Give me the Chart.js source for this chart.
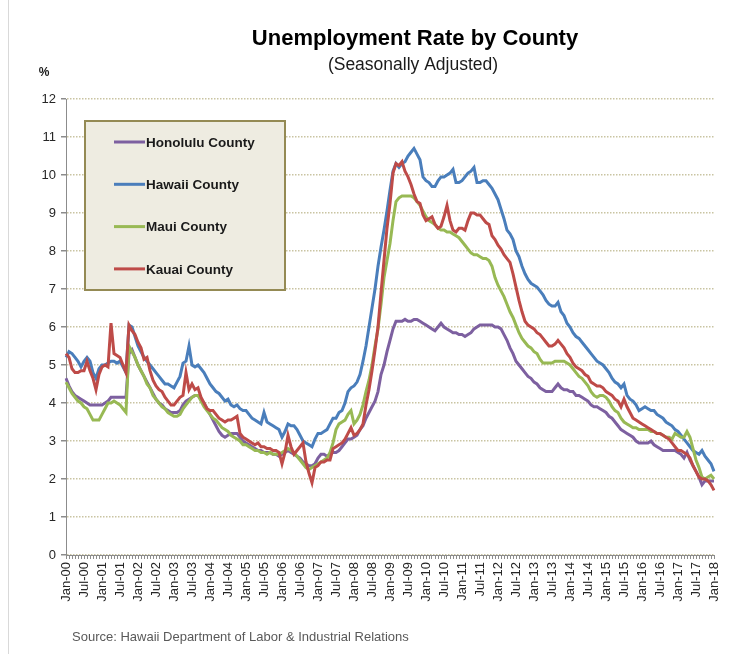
<!doctype html>
<html lang="en">
<head>
<meta charset="utf-8">
<title>Unemployment Rate by County</title>
<script src="https://cdn.jsdelivr.net/npm/chart.js@4.4.1/dist/chart.umd.min.js"></script>
<style>
  html, body { margin: 0; padding: 0; background: #fff; }
  #wrap { width: 741px; height: 654px; }
</style>
</head>
<body>
<div id="wrap"><canvas id="chart" width="741" height="654"></canvas></div>
<script>
// monthly, Jan-00 .. Jan-18
const monthNames = ['Jan', 'Feb', 'Mar', 'Apr', 'May', 'Jun', 'Jul', 'Aug', 'Sep', 'Oct', 'Nov', 'Dec'];
const years = ['00', '01', '02', '03', '04', '05', '06', '07', '08', '09', '10', '11', '12', '13', '14', '15', '16', '17', '18'];

const honolulu = [
  4.65, 4.45, 4.3, 4.2, 4.15, 4.1, 4.05, 4.0, 3.95, 3.95, 3.95, 3.95,
  3.95, 4.0, 4.05, 4.15, 4.15, 4.15, 4.15, 4.15, 4.15, 5.3, 5.4, 5.2,
  5.0, 4.85, 4.7, 4.55, 4.4, 4.25, 4.1, 4.0, 3.95, 3.85, 3.8, 3.75,
  3.75, 3.75, 3.8, 3.95, 4.05, 4.1, 4.15, 4.2, 4.2, 4.1, 4.0, 3.85,
  3.7, 3.55, 3.4, 3.25, 3.15, 3.1, 3.15, 3.2, 3.2, 3.2, 3.1, 3.0,
  2.95, 2.9, 2.85, 2.8, 2.75, 2.75, 2.7, 2.7, 2.7, 2.65, 2.65, 2.6,
  2.65, 2.7, 2.75, 2.7, 2.65, 2.6, 2.55, 2.45, 2.4, 2.35, 2.35, 2.4,
  2.55, 2.65, 2.65, 2.6, 2.65, 2.7, 2.7, 2.75, 2.85, 2.95, 3.05, 3.05,
  3.1, 3.15, 3.3, 3.4, 3.6, 3.75, 3.9, 4.05, 4.3, 4.75, 5.0, 5.35,
  5.65, 5.95, 6.15, 6.15, 6.15, 6.2, 6.15, 6.15, 6.2, 6.2, 6.15, 6.1,
  6.05, 6.0, 5.95, 5.9, 6.0, 6.1, 6.0, 5.95, 5.9, 5.85, 5.85, 5.8,
  5.8, 5.75, 5.8, 5.85, 5.95, 6.0, 6.05, 6.05, 6.05, 6.05, 6.05, 6.0,
  6.0, 5.95, 5.8, 5.65, 5.45, 5.3, 5.1, 5.0, 4.9, 4.8, 4.7, 4.65,
  4.55, 4.5, 4.4, 4.35, 4.3, 4.3, 4.3, 4.4, 4.5, 4.4, 4.35, 4.35,
  4.3, 4.3, 4.2, 4.2, 4.15, 4.1, 4.05, 3.95, 3.9, 3.9, 3.85, 3.8,
  3.75, 3.65, 3.6, 3.5, 3.4, 3.3, 3.25, 3.2, 3.15, 3.1, 3.0, 2.95,
  2.95, 2.95, 2.95, 3.0, 2.9, 2.85, 2.8, 2.75, 2.75, 2.75, 2.75, 2.75,
  2.7, 2.65, 2.55, 2.7, 2.5, 2.35, 2.2, 2.05, 1.85, 1.95, 1.95, 1.95,
  1.95
];

const hawaii = [
  5.2, 5.35, 5.3, 5.2, 5.1, 4.95, 5.1, 5.2, 5.1, 4.8, 4.65, 4.9,
  5.0, 5.0, 5.05, 5.1, 5.1, 5.05, 5.1, 4.95, 4.8, 6.05, 6.0, 5.75,
  5.5, 5.35, 5.2, 5.1, 5.0, 4.9, 4.8, 4.7, 4.6, 4.5, 4.5, 4.45,
  4.4, 4.55, 4.7, 5.05, 5.1, 5.5, 5.0, 4.95, 5.0, 4.9, 4.8, 4.65,
  4.5, 4.4, 4.3, 4.25, 4.15, 4.05, 4.1, 3.95, 3.9, 3.95, 3.85, 3.8,
  3.8, 3.7, 3.6, 3.55, 3.5, 3.45, 3.75, 3.5, 3.45, 3.4, 3.35, 3.3,
  3.1, 3.25, 3.45, 3.4, 3.4, 3.3, 3.15, 3.0, 2.95, 2.9, 2.85, 3.05,
  3.2, 3.2, 3.25, 3.3, 3.45, 3.6, 3.6, 3.75, 3.8, 4.0, 4.3, 4.4,
  4.45, 4.55, 4.75, 5.1, 5.5, 6.0, 6.5, 7.0, 7.6, 8.1, 8.55, 9.05,
  9.6, 10.1, 10.3, 10.2, 10.3, 10.35, 10.5, 10.6, 10.7, 10.55, 10.4, 9.95,
  9.85, 9.8, 9.7, 9.7, 9.85, 9.95, 9.95, 10.0, 10.05, 10.15, 9.8, 9.8,
  9.85, 9.95, 10.05, 10.1, 10.2, 9.8, 9.8, 9.85, 9.85, 9.75, 9.65, 9.5,
  9.35, 9.1, 8.85, 8.55, 8.45, 8.3, 8.0, 7.85, 7.6, 7.4, 7.25, 7.15,
  7.1, 7.05, 6.95, 6.85, 6.7, 6.6, 6.55, 6.55, 6.65, 6.4, 6.3, 6.1,
  6.0, 5.85, 5.75, 5.7, 5.6, 5.5, 5.4, 5.3, 5.2, 5.1, 5.05, 5.0,
  4.9, 4.8, 4.65, 4.55, 4.5, 4.4, 4.5, 4.2, 4.1, 4.05, 3.95, 3.8,
  3.85, 3.9, 3.85, 3.8, 3.8, 3.7, 3.65, 3.6, 3.5, 3.45, 3.4, 3.3,
  3.25, 3.15, 3.05, 2.95, 2.85, 2.75, 2.7, 2.65, 2.75, 2.6, 2.5, 2.4,
  2.2
];

const maui = [
  4.55, 4.4, 4.25, 4.15, 4.05, 4.0, 3.9, 3.85, 3.7, 3.55, 3.55, 3.55,
  3.7, 3.85, 4.0, 4.0, 4.05, 4.0, 3.95, 3.85, 3.75, 5.5, 5.35, 5.2,
  5.0, 4.85, 4.7, 4.5, 4.4, 4.2, 4.1, 4.0, 3.9, 3.85, 3.75, 3.7,
  3.65, 3.65, 3.7, 3.85, 3.95, 4.05, 4.15, 4.2, 4.2, 4.05, 3.9, 3.8,
  3.7, 3.6, 3.55, 3.45, 3.35, 3.3, 3.25, 3.15, 3.1, 3.05, 3.0, 2.9,
  2.9, 2.85, 2.8, 2.75, 2.75, 2.7, 2.7, 2.65, 2.7, 2.65, 2.65, 2.65,
  2.7, 2.75, 2.8, 2.75, 2.7, 2.6, 2.5, 2.4, 2.3, 2.25, 2.3, 2.35,
  2.4, 2.45, 2.5, 2.55, 2.7, 2.95, 3.3, 3.45, 3.5, 3.55, 3.7, 3.8,
  3.45, 3.55, 3.7, 3.95, 4.3, 4.6, 5.0, 5.5, 5.95, 6.6, 7.3, 7.75,
  8.2, 8.8, 9.3, 9.4, 9.45, 9.45, 9.45, 9.45, 9.4, 9.3, 9.2, 9.05,
  8.9, 8.8, 8.75, 8.7, 8.6, 8.55, 8.55, 8.5, 8.5, 8.45, 8.4, 8.35,
  8.25, 8.15, 8.05, 7.95, 7.9, 7.9, 7.85, 7.8, 7.8, 7.75, 7.6, 7.3,
  7.1, 6.95, 6.8, 6.6, 6.4, 6.25, 6.05, 5.85, 5.7, 5.6, 5.5, 5.45,
  5.35, 5.3, 5.15, 5.05, 5.05, 5.05, 5.05, 5.1, 5.1, 5.1, 5.1, 5.05,
  5.0, 4.9, 4.8, 4.7, 4.65, 4.55, 4.45, 4.3, 4.2, 4.15, 4.2, 4.2,
  4.15, 4.05, 3.9, 3.8, 3.75, 3.6, 3.5, 3.45, 3.4, 3.35, 3.35, 3.3,
  3.3, 3.3, 3.3, 3.25, 3.25, 3.2, 3.2, 3.15, 3.1, 3.1, 3.05, 3.2,
  3.15, 3.1, 3.1, 3.25, 3.1, 2.8, 2.5, 2.3, 2.05, 2.0, 2.05, 2.1,
  2.0
];

const kauai = [
  5.3, 5.2, 4.9, 4.8, 4.8, 4.85, 4.85, 5.1, 4.85, 4.65, 4.35, 4.75,
  4.95, 5.0, 4.95, 6.1, 5.3, 5.25, 5.2, 5.0, 4.8, 6.05, 5.9, 5.8,
  5.6, 5.45, 5.15, 5.2, 4.85, 4.6, 4.45, 4.35, 4.3, 4.15, 4.05, 3.95,
  3.95, 4.05, 4.15, 4.2, 4.8, 4.35, 4.5, 4.35, 4.4, 4.15, 4.0, 3.85,
  3.8, 3.8, 3.7, 3.6, 3.55, 3.5, 3.55, 3.55, 3.6, 3.65, 3.2, 3.1,
  3.05, 3.0, 2.95, 2.9, 2.95, 2.85, 2.85, 2.8, 2.8, 2.75, 2.75, 2.7,
  2.4, 2.7, 3.15, 2.85, 2.65, 2.75, 2.85, 2.95, 2.45, 2.15, 1.9, 2.3,
  2.35, 2.45, 2.45, 2.5, 2.5, 2.8, 2.85, 2.9, 2.95, 3.05, 3.2, 3.35,
  3.15, 3.2, 3.3, 3.45, 3.95, 4.35, 4.85, 5.4, 6.0, 6.9, 7.75, 8.6,
  9.25, 10.05, 10.3, 10.25, 10.35, 10.1, 9.95, 9.75, 9.5, 9.3, 9.25, 8.95,
  8.8, 8.85, 8.9, 8.7, 8.6, 8.65, 8.9, 9.2, 8.8, 8.55, 8.5, 8.6,
  8.6, 8.55, 8.8, 9.0, 9.0, 8.95, 8.95, 8.85, 8.75, 8.7, 8.4, 8.3,
  8.15, 8.05, 7.9, 7.8, 7.7, 7.4, 7.05, 6.7, 6.4, 6.15, 6.05, 6.0,
  5.95, 5.85, 5.8, 5.7, 5.6, 5.5, 5.5, 5.55, 5.65, 5.55, 5.45, 5.3,
  5.2, 5.05, 4.95, 4.9, 4.85, 4.75, 4.7, 4.55, 4.5, 4.45, 4.45, 4.4,
  4.3, 4.25, 4.2, 4.1, 4.05, 3.9, 4.1, 3.9, 3.75, 3.6, 3.55, 3.5,
  3.45, 3.4, 3.35, 3.3, 3.25, 3.2, 3.2, 3.15, 3.1, 3.05, 2.95, 2.85,
  2.75, 2.75, 2.7, 2.65, 2.55, 2.35, 2.2, 2.05, 2.0, 2.0, 1.95, 1.85,
  1.7
];

const labels = [];
years.forEach(function (y, k) {
  monthNames.forEach(function (m) {
    if (k < years.length - 1 || m === 'Jan') labels.push(m + '-' + y);
  });
});

const FONT = '"Liberation Sans", Arial, sans-serif';

// title, legend box, footnote
const decor = {
  id: 'decor',
  afterDatasetsDraw(chart) {
    const ctx = chart.ctx;
    const a = chart.chartArea;
    ctx.save();
    const bx = a.left + 19, by = a.top + 22, bw = 200, bh = 169;
    ctx.fillStyle = '#eeece1';
    ctx.fillRect(bx, by, bw, bh);
    ctx.strokeStyle = '#948a54';
    ctx.lineWidth = 2;
    ctx.strokeRect(bx, by, bw, bh);
    ctx.textBaseline = 'middle';
    ctx.font = 'bold 13.5px ' + FONT;
    chart.data.datasets.forEach(function (ds, k) {
      const y = by + 21 + k * 42.3;
      ctx.strokeStyle = ds.borderColor;
      ctx.lineWidth = 3;
      ctx.beginPath();
      ctx.moveTo(bx + 29, y);
      ctx.lineTo(bx + 60, y);
      ctx.stroke();
      ctx.fillStyle = '#1a1a1a';
      ctx.fillText(ds.label, bx + 61, y + 1);
    });
    ctx.restore();
  },
  afterDraw(chart) {
    const ctx = chart.ctx;
    ctx.save();
    ctx.strokeStyle = '#d9d9d9';
    ctx.lineWidth = 1;
    ctx.beginPath();
    ctx.moveTo(8.5, 0);
    ctx.lineTo(8.5, 654);
    ctx.stroke();

    ctx.textBaseline = 'middle';
    ctx.textAlign = 'center';
    ctx.fillStyle = '#000';
    ctx.font = 'bold 22px ' + FONT;
    ctx.fillText('Unemployment Rate by County', 415, 39);
    ctx.font = '17.5px ' + FONT;
    ctx.fillStyle = '#1a1a1a';
    ctx.fillText('(Seasonally Adjusted)', 413, 65);

    ctx.font = 'bold 12px ' + FONT;
    ctx.fillText('%', 44, 73);

    ctx.textAlign = 'left';
    ctx.font = '13px ' + FONT;
    ctx.fillStyle = '#595959';
    ctx.fillText('Source: Hawaii Department of Labor & Industrial Relations', 72, 637);
    ctx.restore();
  }
};

const ctx = document.getElementById('chart').getContext('2d');
const chart = new Chart(ctx, {
  type: 'line',
  data: {
    labels: labels,
    datasets: [
      { label: 'Honolulu County', data: honolulu, borderColor: '#7d60a0', order: 4 },
      { label: 'Hawaii County', data: hawaii, borderColor: '#4a7ebb', order: 3 },
      { label: 'Maui County', data: maui, borderColor: '#98b954', order: 2 },
      { label: 'Kauai County', data: kauai, borderColor: '#be4b48', order: 1 }
    ]
  },
  options: {
    responsive: false,
    animation: false,
    devicePixelRatio: 1,
    layout: { padding: { top: 99, right: 27, left: 0, bottom: 0 } },
    elements: {
      line: { borderWidth: 3, tension: 0, fill: false },
      point: { radius: 0 }
    },
    plugins: {
      legend: { display: false },
      tooltip: { enabled: false },
      title: { display: false }
    },
    scales: {
      x: {
        offset: false,
        grid: { display: true, drawOnChartArea: false, drawTicks: true, tickLength: 4, tickColor: '#8c8c8c' },
        border: { color: '#8c8c8c', width: 1 },
        ticks: {
          autoSkip: false,
          maxRotation: 90,
          minRotation: 90,
          padding: 3,
          color: '#262626',
          font: { family: FONT, size: 13 },
          callback: function (v, i) { return i % 6 === 0 ? this.getLabelForValue(v) : ''; }
        },
        afterFit: function (s) { s.height = 99; }
      },
      y: {
        min: 0,
        max: 12,
        grid: { color: '#c9c4a2', lineWidth: 1.5, tickLength: 5, tickColor: '#8c8c8c' },
        border: { color: '#8c8c8c', width: 1, dash: [1.5, 1.5] },
        ticks: {
          stepSize: 1,
          padding: 5,
          color: '#262626',
          font: { family: FONT, size: 13 }
        },
        afterFit: function (s) { s.width = 66; }
      }
    }
  },
  plugins: [decor]
});
</script>
</body>
</html>
